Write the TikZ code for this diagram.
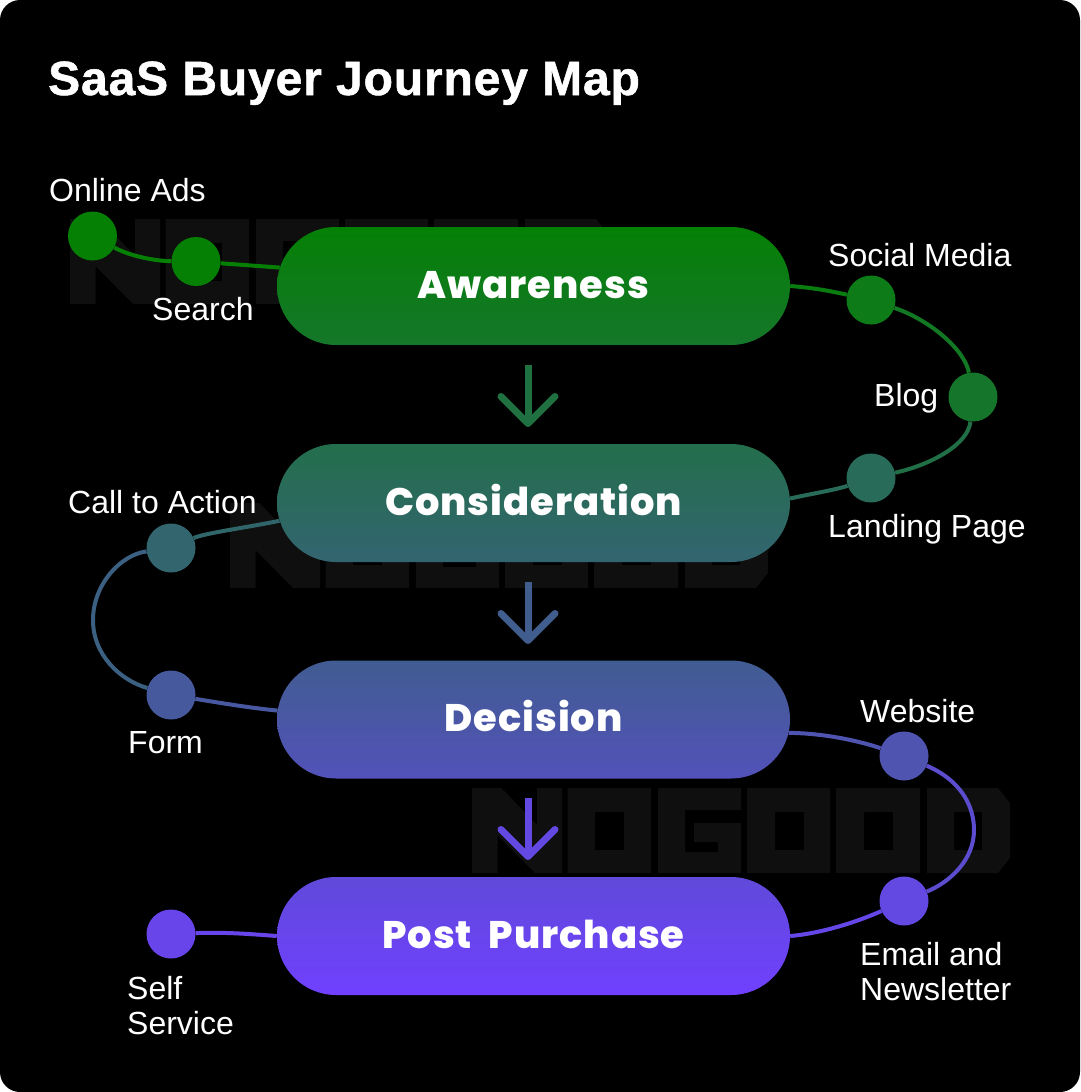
\documentclass[tikz,border=0pt]{standalone}
\usepackage{fontspec}
\setmainfont{Liberation Sans}
\newfontfamily\pillfont{Poppins}[BoldFont={Poppins ExtraBold},LetterSpace=2.5,WordSpace=2]
\newfontfamily\titlefont{Liberation Sans}[BoldFeatures={FakeBold=1.1,LetterSpace=1.8}]
\usetikzlibrary{arrows.meta,shapes.misc}

\definecolor{jstart}{RGB}{5,128,5}
\definecolor{jend}{RGB}{112,64,255}
\definecolor{jmark}{RGB}{15,15,15}

\tikzset{
    stagepill/.style={rounded rectangle, minimum width=513pt, minimum height=118pt, inner sep=0pt,
        text=white, text height=32pt, text depth=8pt, font=\fontsize{38.4}{38.4}\pillfont\bfseries},
    touchdot/.style={circle, minimum size=49pt, inner sep=0pt, fill=#1},
    touchlabel/.style={anchor=base west, inner sep=0pt, text=white, align=left,
        font=\fontsize{32}{35}\selectfont},
    pathlink/.style={line width=4pt, draw=#1},
    flowarrow/.style={line width=7pt, draw=#1, -{Straight Barb[round, length=27pt, width=54pt]}},
}

% the faint logo behind the stages
\newcommand{\nogoodmark}{
    \fill[jmark] (0,0) -- (29.5,0) -- (65,37) -- (65,0) -- (90,0) -- (90,85) -- (63,85) -- (25.5,47) -- (25.5,85) -- (0,85) -- cycle;
    \fill[jmark, even odd rule] (95.5,0) rectangle (179,85) (123,24) rectangle (152,62);
    \fill[jmark, even odd rule] (186,0) -- (269,0) -- (269,85) -- (186,85) -- cycle
        (213,22) -- (269,22) -- (269,35) -- (222,35) -- (222,54) -- (246,54) -- (246,64) -- (213,64) -- cycle;
    \fill[jmark, even odd rule] (275,0) rectangle (358,85) (303,24) rectangle (332,62);
    \fill[jmark, even odd rule] (364,0) rectangle (448,85) (392,24) rectangle (421,62);
    \fill[jmark, even odd rule] (455,0) -- (526,0) -- (538,15) -- (538,70) -- (526,85) -- (455,85) -- cycle (482,24) rectangle (510,62);
}

\begin{document}
\begin{tikzpicture}[x=1pt,y=-1pt]
    \useasboundingbox (0,0) rectangle (1080,1092);
    % page and background
    \fill[white] (0,0) rectangle (1080,1092);
    \fill[black, rounded corners=20pt] (0,0) rectangle (1080,1092);
    \begin{scope}[shift={(70,219)}]
        \nogoodmark
    \end{scope}
    \begin{scope}[shift={(230,503)}]
        \nogoodmark
    \end{scope}
    \begin{scope}[shift={(472,788)}]
        \nogoodmark
    \end{scope}
    % title
    \node[anchor=base west, inner sep=0pt, text=white, font=\fontsize{48}{48}\titlefont\bfseries] (title) at (48,95) {SaaS Buyer Journey Map};
    % draw the stages
    \node[stagepill, top color=jstart, bottom color=jend!15!jstart] (awareness) at (533.5,286) {Awareness};
    \node[stagepill, top color=jend!28!jstart, bottom color=jend!43!jstart] (consideration) at (533.5,503) {Consideration};
    \node[stagepill, top color=jend!56!jstart, bottom color=jend!72!jstart] (decision) at (533.5,719.5) {Decision};
    \node[stagepill, top color=jend!85!jstart, bottom color=jend] (postpurchase) at (533.5,936) {Post Purchase};
    % draw the touchpoints
    \node[touchdot=jstart] (onlineads) at (92.5,236) {};
    \node[touchdot=jstart] (search) at (196,261.5) {};
    \node[touchdot=jend!8!jstart] (socialmedia) at (871,300) {};
    \node[touchdot=jend!15!jstart] (blog) at (973,397) {};
    \node[touchdot=jend!33!jstart] (landingpage) at (871,478) {};
    \node[touchdot=jend!42!jstart] (calltoaction) at (171,548) {};
    \node[touchdot=jend!61!jstart] (form) at (171,695) {};
    \node[touchdot=jend!69!jstart] (website) at (904,756) {};
    \node[touchdot=jend!88!jstart] (emailnews) at (904,901) {};
    \node[touchdot=jend!92!jstart] (selfservice) at (171,934) {};
    % draw the touchpoint labels
    \node[touchlabel] (onlineadstext) at (49,201) {Online Ads};
    \node[touchlabel] (searchtext) at (152,320) {Search};
    \node[touchlabel] (socialmediatext) at (828,266) {Social Media};
    \node[touchlabel] (blogtext) at (874,406) {Blog};
    \node[touchlabel] (landingpagetext) at (828,537) {Landing Page};
    \node[touchlabel] (calltoactiontext) at (68,513) {Call to Action};
    \node[touchlabel] (formtext) at (128,753) {Form};
    \node[touchlabel] (websitetext) at (860,722) {Website};
    \node[touchlabel] (emailnewstext) at (860,1000) {Email and\\Newsletter};
    \node[touchlabel] (selfservicetext) at (127,1034) {Self\\Service};
    % draw the links
    \draw[pathlink=jstart] (onlineads) .. controls (130,256) and (155,261) .. (search);
    \draw[pathlink=jstart] (search) -- (awareness);
    \draw[pathlink=jend!4!jstart] (awareness.0.5) .. controls (815,288) and (830,291) .. (socialmedia);
    \draw[pathlink=jend!12!jstart] (socialmedia) .. controls (930,320) and (965,350) .. (blog);
    \draw[pathlink=jend!26!jstart] (blog) .. controls (968,445) and (930,465) .. (landingpage);
    \draw[pathlink=jend!33!jstart] (landingpage) .. controls (835,490) and (810,494) .. (consideration.1.75);
    \draw[pathlink=jend!40!jstart] (calltoaction) .. controls (205,533) and (250,527) .. (consideration.184.8);
    \draw[pathlink=jend!50!jstart] (calltoaction) .. controls (120,555) and (93,585) .. (93,620) .. controls (93,655) and (120,680) .. (form);
    \draw[pathlink=jend!62!jstart] (form) .. controls (215,702) and (250,708) .. (decision.178.1);
    \draw[pathlink=jend!68!jstart] (decision.357.9) .. controls (815,733) and (850,738) .. (website);
    \draw[pathlink=jend!80!jstart] (website) .. controls (960,780) and (974,805) .. (974,830) .. controls (974,860) and (950,882) .. (emailnews);
    \draw[pathlink=jend!90!jstart] (emailnews) .. controls (850,925) and (815,934) .. (postpurchase.east);
    \draw[pathlink=jend!92!jstart] (selfservice) .. controls (225,932) and (250,934) .. (postpurchase.west);
    % draw the flow arrows
    \coordinate (arrowtopa) at (528,365);
    \coordinate (arrowtipa) at (528,427);
    \coordinate (arrowtopb) at (528,582);
    \coordinate (arrowtipb) at (528,644);
    \coordinate (arrowtopc) at (528,798);
    \coordinate (arrowtipc) at (528,860);
    \draw[flowarrow=jend!24!jstart] (arrowtopa) -- (arrowtipa);
    \draw[flowarrow=jend!55!jstart] (arrowtopb) -- (arrowtipb);
    \draw[flowarrow=jend!88!jstart] (arrowtopc) -- (arrowtipc);
\end{tikzpicture}
\end{document}
